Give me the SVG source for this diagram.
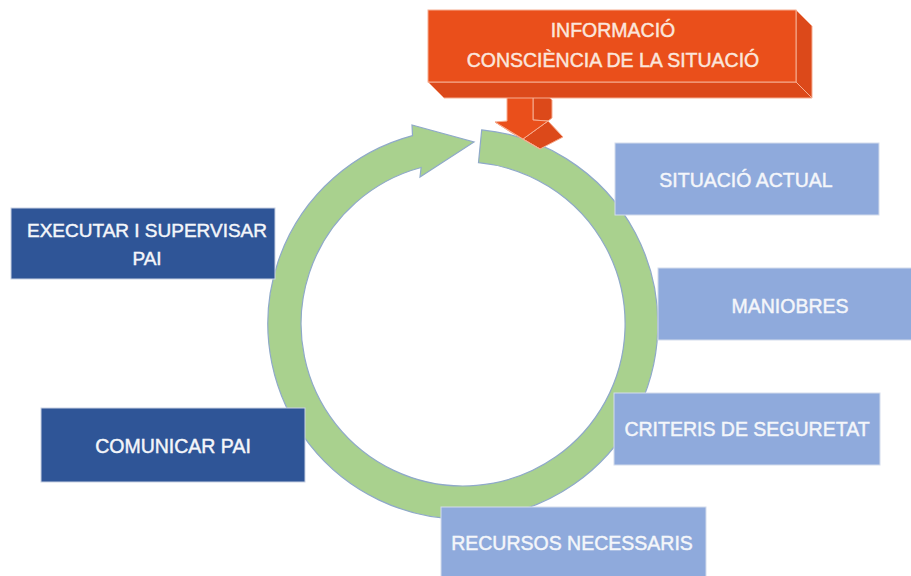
<svg xmlns="http://www.w3.org/2000/svg" width="911" height="576" viewBox="0 0 911 576">
<style>
  .lbl { font-family: "Liberation Sans", Arial, sans-serif; font-size: 19.5px; text-anchor: middle; stroke-width: 0.45px; }
  .light rect { fill: #8FAADC; stroke: #D3DCEC; stroke-width: 1; }
  .dark rect { fill: #2F5597; stroke: #C9D2E3; stroke-width: 1; }
  .light text, .dark text { fill: #F4F6FA; stroke: #F4F6FA; }
  .or-text { fill: #FBE6DC; stroke: #FBE6DC; }
  .or-front { fill: #EA4F1B; stroke: #F6AE92; stroke-width: 1; }
  .or-side { fill: #DC491A; stroke: #F6AE92; stroke-width: 1; }
</style>
<rect width="911" height="576" fill="#FFFFFF"/>

<g id="connectors">
  <path id="cycle-arrow" d="M481.7 129.9 A195 195 0 1 1 412.5 135.6 L412 125 L474 142 L420 177 L421.1 167.5 A162 162 0 1 0 478.5 162.7 Z" fill="#A9D18E" stroke="#8FA9C9" stroke-width="1.2"/>
  <g id="info-arrow">
    <path class="or-side" d="M533 82 L552 100 L552 118 L548 121 L533 120 Z"/>
    <path class="or-side" d="M523 139 L548 121 L563 137 L540 149 Z"/>
    <path class="or-side" d="M495 122 L523 139 L540 149 L512 133 Z"/>
    <path class="or-front" d="M507 82 L533 82 L533 120 L548 121 L523 139 L495 122 L507 121 Z"/>
  </g>
</g>

<g id="info">
  <path class="or-side" d="M796 10 L812 26 L812 98 L796 82 Z"/>
  <path class="or-side" d="M428 82 L796 82 L812 98 L444 98 Z"/>
  <rect class="or-front" x="428" y="10" width="368" height="72"/>
  <text class="lbl or-text" x="613" y="37">INFORMACIÓ</text>
  <text class="lbl or-text" x="613" y="67">CONSCIÈNCIA DE LA SITUACIÓ</text>
</g>

<g id="situacio" class="light">
  <rect x="615" y="143" width="264" height="72"/>
  <text class="lbl" x="746" y="187">SITUACIÓ ACTUAL</text>
</g>

<g id="maniobres" class="light">
  <rect x="658" y="268" width="260" height="72"/>
  <text class="lbl" x="790" y="313">MANIOBRES</text>
</g>

<g id="criteris" class="light">
  <rect x="614" y="393" width="266" height="72"/>
  <text class="lbl" x="747" y="436">CRITERIS DE SEGURETAT</text>
</g>

<g id="recursos" class="light">
  <rect x="441" y="507" width="265" height="75"/>
  <text class="lbl" x="572" y="550">RECURSOS NECESSARIS</text>
</g>

<g id="executar" class="dark">
  <rect x="11" y="208" width="264" height="71"/>
  <text class="lbl" x="147" y="237" style="font-size:19px">EXECUTAR I SUPERVISAR</text>
  <text class="lbl" x="147" y="265" style="font-size:19px">PAI</text>
</g>

<g id="comunicar" class="dark">
  <rect x="41" y="408" width="264" height="74"/>
  <text class="lbl" x="173" y="453">COMUNICAR PAI</text>
</g>
</svg>
